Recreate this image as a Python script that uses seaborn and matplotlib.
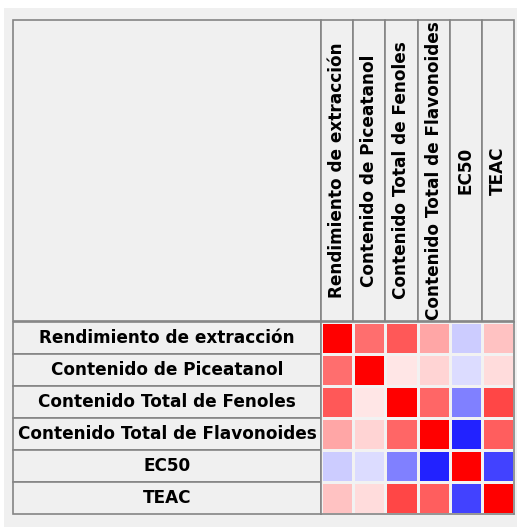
import matplotlib
matplotlib.use("Agg")
import matplotlib.pyplot as plt
from matplotlib.patches import Rectangle
import numpy as np
import pandas as pd
import seaborn as sns

variables = ["Rendimiento de extracción", "Contenido de Piceatanol",
             "Contenido Total de Fenoles", "Contenido Total de Flavonoides",
             "EC50", "TEAC"]

# correlation values (bwr scale, -1..1)
rendimiento = [1.00, 0.57, 0.65, 0.35, -0.20, 0.24]
piceatanol = [0.57, 1.00, 0.10, 0.17, -0.14, 0.14]
fenoles = [0.65, 0.10, 1.00, 0.60, -0.50, 0.72]
flavonoides = [0.35, 0.17, 0.60, 1.00, -0.86, 0.63]
ec50 = [-0.20, -0.14, -0.50, -0.86, 1.00, -0.74]
teac = [0.24, 0.14, 0.72, 0.63, -0.74, 1.00]

corr = pd.DataFrame([rendimiento, piceatanol, fenoles, flavonoides, ec50, teac],
                    index=variables, columns=variables)

W, H = 517, 527
BG = "#f0f0f0"
EDGE = "#858585"


def box(x0, y0, x1, y1):
    # pixel box (top-left origin) -> figure coords
    return [x0 / W, 1 - y1 / H, (x1 - x0) / W, (y1 - y0) / H]


fig = plt.figure(figsize=(W / 100, H / 100), dpi=100)
fig.patch.set_facecolor("white")
fig.add_artist(Rectangle((4 / W, 0), 1 - 4 / W, 1 - 8 / H, transform=fig.transFigure,
                         facecolor=BG, edgecolor="none", zorder=0))

n = len(variables)
font = dict(fontsize=12.2, fontweight="bold", color="black", family="DejaVu Sans")

# corner cell
corner = fig.add_axes(box(13, 20, 321, 321))
corner.set_xlim(0, 1)
corner.set_ylim(0, 1)
corner.axis("off")
corner.add_patch(Rectangle((0, 0), 1, 1, facecolor=BG, edgecolor=EDGE, lw=1.2, clip_on=False))

# column headers
hdr = fig.add_axes(box(321, 20, 514, 321))
hdr.set_xlim(0, n)
hdr.set_ylim(0, 1)
hdr.axis("off")
for j, name in enumerate(variables):
    hdr.add_patch(Rectangle((j, 0), 1, 1, facecolor=BG, edgecolor=EDGE, lw=1.2, clip_on=False))
    hdr.text(j + 0.5, 0.5, name, rotation=90, ha="center", va="center", **font)

# row labels
lab = fig.add_axes(box(13, 322, 321, 514))
lab.set_xlim(0, 1)
lab.set_ylim(n, 0)
lab.axis("off")
for i, name in enumerate(variables):
    lab.add_patch(Rectangle((0, i), 1, 1, facecolor=BG, edgecolor=EDGE, lw=1.2, clip_on=False))
    lab.text(0.5, i + 0.5, name, ha="center", va="center", **font)

# heatmap
hm = fig.add_axes(box(321, 322, 514, 514))
sns.heatmap(corr, ax=hm, cmap="bwr", vmin=-1, vmax=1, cbar=False,
            linewidths=0.8, linecolor="#f2f2f2",
            xticklabels=False, yticklabels=False)
hm.set_xlabel("")
hm.set_ylabel("")
for s in hm.spines.values():
    s.set_visible(True)
    s.set_color(EDGE)
    s.set_linewidth(1.2)

fig.savefig("out.png", dpi=100)
